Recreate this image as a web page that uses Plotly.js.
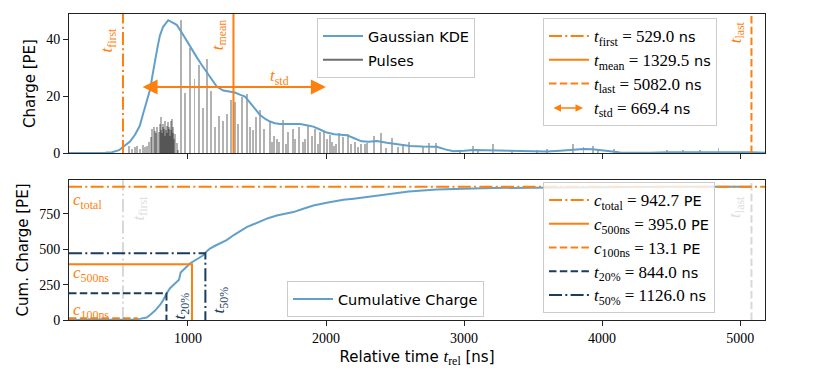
<!DOCTYPE html>
<html><head><meta charset="utf-8">
<script src="https://cdn.plot.ly/plotly-3.0.1.min.js"></script>
<style>html,body{margin:0;padding:0;background:#fff}</style>
</head><body>
<div id="chart" style="width:830px;height:380px"></div>
<script>
// ---- data ----
const pulseTimes = [575,592,616,633,652,671,688,705,720,730,742,751,761,768,778,787,797,802,807,812,816,821,826,831,836,841,845,850,855,860,865,869,874,879,884,889,894,899,906,918,930,
  947,978,1014,1047,1082,1106,1135,1170,1196,1222,1256,1280,1312,1341,1365,1394,1425,1449,1470,1493,1522,1553,1594,1610,1626,1643,1660,1691,1710,1727,1758,1775,1807,1835,1845,1867,1901,1920,1940,1957,1988,2010,
  2029,2045,2060,2075,2094,2126,2157,2180,2210,2230,2251,2280,2300,2350,2399,2435,2481,2524,2556,2604,2700,2749,2797,2971,
  3063,3100,3208,3345,3527,3599,3787,3865,3932,3973,4087,4469,4589,4710,4843,5082];
const pulseCharges = [2.6,1.4,2.0,2.6,1.4,2.7,2.0,2.6,3.9,5.7,8.6,9.3,7.9,7.0,9.1,7.3,10.3,8,12.6,7,10.3,9,8.6,6,11.4,8,9.6,7,10.8,9,8.6,6,11.4,8,12.0,7,9.0,5,6.6,3.6,1.2,
  46.8,21.2,37,26,31,16,33,22,9,13,11.4,13.8,18.7,17.9,10.2,19.9,20.8,9.1,8,12.6,15,8.5,10.8,4,6.1,5,4,11.7,3,7.3,8.5,5,9.3,4,5,9.5,6,8.5,3,7.3,7.8,5,
  6.4,4,2.5,3,7.2,5.8,6.6,3,4,2,3,3,3.5,6,7.2,1.9,5.3,2.2,3,3.9,2.6,3.5,3.5,1,
  2.5,1.5,3.1,1.1,1.2,1.3,3.1,2.2,2.4,1.5,1.5,1.0,1.2,1.0,1.7,0.8];

const kdeTimes = [138,300,400,450,500,531,580,616,650,676,700,725,745,761,780,797,820,857,890,918,950,990,1030,1063,1100,1135,1170,1208,1256,1300,1340,1380,1413,1470,1522,1560,1594,1630,1667,1740,1812,1860,1908,1960,2005,2060,2101,2150,2200,2258,2310,2367,2440,2520,2609,2700,2802,2870,2923,3000,3067,3160,3261,3380,3500,3600,3696,3780,3865,3930,3986,4060,4130,4227,4350,4469,4600,4710,4800,4879,5000,5080,5180];
const kdeValues = [0,0,0.05,0.3,1.0,2.2,4.0,6.4,9.5,14,18,22.3,28,32.9,37.5,41.5,44.5,46.8,46,45.2,42.8,39.5,36.5,33.8,31,28.5,25.8,23.4,22,21.5,21.3,20.5,19.9,16.5,13.4,12,11.1,10.5,10.2,10.2,10.2,9.8,9.3,8.2,7.2,6.6,6.4,6.3,5.3,4.1,4.0,4.2,3.6,3.0,2.5,2.3,2.2,1.2,0.6,0.8,1.1,1.0,0.9,0.6,0.4,0.5,0.8,1.2,1.4,1.3,1.1,0.6,0.2,0.05,0.1,0.3,0.35,0.3,0.35,0.4,0.3,0.3,0.1];

const cumTimes = [138,540,600,650,700,725,760,797,820,845,870,906,935,947,978,990,1014,1045,1082,1111,1135,1159,1196,1232,1280,1329,1365,1425,1470,1522,1580,1643,1700,1763,1830,1908,2005,2060,2126,2200,2246,2350,2450,2600,2800,3000,3200,3500,3800,4000,4500,5082];
const cumValues = [0,0,3,8,18,35,65,106,140,188,225,258,285,335,360,376,400,420,445,458,485,505,525,540,565,599,620,657,675,699,720,739,750,763,785,810,829,840,850,858,864,880,893,908,922,929,933,936,939,941,942,942.7];

const tFirst = 529.0, tMean = 1329.5, tLast = 5082.0, tStd = 669.4;
const cTotal = 942.7, c500 = 395.0, c100 = 13.1, t20 = 844.0, t50 = 1126.0;
const xTickVals = [1000,2000,3000,4000,5000];
const xTickText = ['1000','2000','3000','4000','5000'];
const yTopTicks = [0,20,40];
const yBotTicks = [0,250,500,750];

// ---- style ----
const xRange = [138, 5180];
const yTopRange = [0, 49];
const yBotRange = [0, 990];
const ORANGE = '#ff7f0e', NAVY = '#1a3d5c', BLUE = '#62a0ca', LGRAY = '#d8d8d8';
const SERIF = 'Liberation Serif';
const DASHDOT = '13px,3.3px,2px,3.3px';
const DASHED = '7.5px,3.3px';
const m = s => `<span style="font-family:Liberation Serif;font-size:17px">${s}</span>`;
const lg = s => `<span style="font-size:14.5px">${s}</span>`;

const traces = [];
// top panel
traces.push({type:'bar', x:pulseTimes, y:pulseCharges, width:14, xaxis:'x', yaxis:'y',
  marker:{color:'rgba(0,0,0,0.3)', line:{width:0}}, showlegend:false, hoverinfo:'skip'});
traces.push({type:'scatter', mode:'lines', x:kdeTimes, y:kdeValues, xaxis:'x', yaxis:'y',
  line:{color:BLUE, width:2}, name:lg('Gaussian KDE'), legend:'legend'});
traces.push({type:'scatter', mode:'lines', x:[null], y:[null], xaxis:'x', yaxis:'y',
  line:{color:'#6e6e6e', width:2}, name:lg('Pulses'), legend:'legend'});
traces.push({type:'scatter', mode:'lines', x:[tFirst,tFirst], y:yTopRange, xaxis:'x', yaxis:'y',
  line:{color:ORANGE, width:2, dash:DASHDOT}, name:lg(m('<i>t</i><sub>first</sub> = 529.0')+' ns'), legend:'legend2'});
traces.push({type:'scatter', mode:'lines', x:[tMean,tMean], y:yTopRange, xaxis:'x', yaxis:'y',
  line:{color:ORANGE, width:2}, name:lg(m('<i>t</i><sub>mean</sub> = 1329.5')+' ns'), legend:'legend2'});
traces.push({type:'scatter', mode:'lines', x:[tLast,tLast], y:yTopRange, xaxis:'x', yaxis:'y',
  line:{color:ORANGE, width:2, dash:DASHED}, name:lg(m('<i>t</i><sub>last</sub> = 5082.0')+' ns'), legend:'legend2'});
traces.push({type:'scatter', mode:'lines', x:[null], y:[null], xaxis:'x', yaxis:'y',
  line:{color:'rgba(0,0,0,0)', width:2}, name:lg(m('<i>t</i><sub>std</sub> = 669.4')+' ns'), legend:'legend2'});

// bottom panel
traces.push({type:'scatter', mode:'lines', x:[tFirst,tFirst], y:yBotRange, xaxis:'x2', yaxis:'y2',
  line:{color:LGRAY, width:2, dash:DASHDOT}, showlegend:false, hoverinfo:'skip'});
traces.push({type:'scatter', mode:'lines', x:[tLast,tLast], y:yBotRange, xaxis:'x2', yaxis:'y2',
  line:{color:LGRAY, width:2, dash:DASHED}, showlegend:false, hoverinfo:'skip'});
traces.push({type:'scatter', mode:'lines', x:cumTimes, y:cumValues, xaxis:'x2', yaxis:'y2',
  line:{color:BLUE, width:2}, name:lg('Cumulative Charge'), legend:'legend3'});
traces.push({type:'scatter', mode:'lines', x:xRange, y:[cTotal,cTotal], xaxis:'x2', yaxis:'y2',
  line:{color:ORANGE, width:2, dash:DASHDOT}, name:lg(m('<i>c</i><sub>total</sub> = 942.7')+' PE'), legend:'legend4'});
traces.push({type:'scatter', mode:'lines', x:[xRange[0], tFirst+500, tFirst+500], y:[c500,c500,0], xaxis:'x2', yaxis:'y2',
  line:{color:ORANGE, width:2}, name:lg(m('<i>c</i><sub>500ns</sub> = 395.0')+' PE'), legend:'legend4'});
traces.push({type:'scatter', mode:'lines', x:[xRange[0], tFirst+100, tFirst+100], y:[c100,c100,0], xaxis:'x2', yaxis:'y2',
  line:{color:ORANGE, width:2, dash:DASHED}, name:lg(m('<i>c</i><sub>100ns</sub> = 13.1')+' PE'), legend:'legend4'});
traces.push({type:'scatter', mode:'lines', x:[xRange[0], t20, t20], y:[0.2*cTotal,0.2*cTotal,0], xaxis:'x2', yaxis:'y2',
  line:{color:NAVY, width:2, dash:DASHED}, name:lg(m('<i>t</i><sub>20%</sub> = 844.0')+' ns'), legend:'legend4'});
traces.push({type:'scatter', mode:'lines', x:[xRange[0], t50, t50], y:[0.5*cTotal,0.5*cTotal,0], xaxis:'x2', yaxis:'y2',
  line:{color:NAVY, width:2, dash:DASHDOT}, name:lg(m('<i>t</i><sub>50%</sub> = 1126.0')+' ns'), legend:'legend4'});

const legBase = {bgcolor:'rgba(255,255,255,0.8)', bordercolor:'#cccccc', borderwidth:1, itemwidth:40,
  font:{family:'DejaVu Sans', size:16, color:'#000'}, xanchor:'left', yanchor:'top', tracegroupgap:0};

const annFont = (c, s) => ({family:SERIF, size:s||17, color:c});
const annotations = [
  {xref:'x', yref:'y', x:tFirst, y:40, text:'<i>t</i><sub>first</sub>', textangle:-90, xanchor:'right', xshift:-2, showarrow:false, font:annFont(ORANGE)},
  {xref:'x', yref:'y', x:tMean, y:41.7, text:'<i>t</i><sub>mean</sub>', textangle:-90, xanchor:'right', xshift:-2, showarrow:false, font:annFont(ORANGE)},
  {xref:'x', yref:'y', x:tLast, y:42.7, text:'<i>t</i><sub>last</sub>', textangle:-90, xanchor:'right', xshift:-2, showarrow:false, font:annFont(ORANGE)},
  {xref:'x', yref:'y', x:tMean+tStd/2, y:26.9, text:'<i>t</i><sub>std</sub>', showarrow:false, font:annFont(ORANGE)},
  {xref:'x', yref:'y', axref:'x', ayref:'y', x:tMean+tStd, y:23.3, ax:tMean-tStd, ay:23.3, text:'', showarrow:true,
    arrowside:'end+start', arrowhead:2, startarrowhead:2, arrowsize:1.5, startarrowsize:1.5, arrowwidth:2, arrowcolor:ORANGE, standoff:0, startstandoff:0},
  {xref:'paper', yref:'paper', x:(583-69)/696, y:(320-108)/306, axref:'pixel', ayref:'pixel', ax:-31, ay:0, text:'', showarrow:true,
    arrowside:'end+start', arrowhead:2, startarrowhead:2, arrowsize:1, startarrowsize:1, arrowwidth:1.5, arrowcolor:ORANGE},
  // bottom
  {xref:'paper', yref:'y2', x:0, y:838, text:'<i>c</i><sub>total</sub>', xanchor:'left', xshift:2, showarrow:false, font:annFont(ORANGE)},
  {xref:'paper', yref:'y2', x:0, y:324, text:'<i>c</i><sub>500ns</sub>', xanchor:'left', xshift:2, showarrow:false, font:annFont(ORANGE)},
  {xref:'paper', yref:'y2', x:0, y:63, text:'<i>c</i><sub>100ns</sub>', xanchor:'left', xshift:2, showarrow:false, font:annFont(ORANGE)},
  {xref:'x2', yref:'y2', x:t20, y:99, text:'<i>t</i><sub>20%</sub>', textangle:-90, xanchor:'left', xshift:2, showarrow:false, font:annFont(NAVY)},
  {xref:'x2', yref:'y2', x:t50, y:141, text:'<i>t</i><sub>50%</sub>', textangle:-90, xanchor:'left', xshift:2, showarrow:false, font:annFont(NAVY)},
  {xref:'x2', yref:'y2', x:tFirst, y:796, text:'<i>t</i><sub>first</sub>', textangle:-90, xanchor:'left', xshift:4, showarrow:false, font:annFont('#dddddd')},
  {xref:'x2', yref:'y2', x:tLast, y:803, text:'<i>t</i><sub>last</sub>', textangle:-90, xanchor:'right', xshift:-2, showarrow:false, font:annFont('#dddddd')}
];

const axCommon = {showline:true, mirror:true, linecolor:'#222', linewidth:1, ticks:'outside', ticklen:5, tickwidth:1,
  tickcolor:'#222', showgrid:false, zeroline:false, tickfont:{family:SERIF, size:14, color:'#000'}};

const layout = {
  width:830, height:380, paper_bgcolor:'#fff', plot_bgcolor:'#fff',
  margin:{l:69, r:65, t:14, b:60}, barmode:'overlay', bargap:0,
  font:{family:'DejaVu Sans', color:'#000'},
  xaxis: Object.assign({}, axCommon, {domain:[0,1], anchor:'y', range:xRange, tickvals:xTickVals, ticktext:xTickText, showticklabels:false}),
  yaxis: Object.assign({}, axCommon, {domain:[(320-153)/306,1], anchor:'x', range:yTopRange, tickvals:yTopTicks,
    title:{text:'Charge [PE]', font:{family:'DejaVu Sans', size:15}, standoff:6}}),
  xaxis2: Object.assign({}, axCommon, {domain:[0,1], anchor:'y2', range:xRange, tickvals:xTickVals, ticktext:xTickText,
    title:{text:'Relative time '+m('<i>t</i><sub>rel</sub>')+' [ns]', font:{family:'DejaVu Sans', size:15}, standoff:6}}),
  yaxis2: Object.assign({}, axCommon, {domain:[0,(320-180)/306], anchor:'x2', range:yBotRange, tickvals:yBotTicks,
    title:{text:'Cum. Charge [PE]', font:{family:'DejaVu Sans', size:15}, standoff:6}}),
  legend: Object.assign({}, legBase, {x:(317-69)/696, y:(320-18)/306}),
  legend2: Object.assign({}, legBase, {x:(543-69)/696, y:(320-18)/306}),
  legend3: Object.assign({}, legBase, {x:(287-69)/696, y:(320-281)/306}),
  legend4: Object.assign({}, legBase, {x:(543-69)/696, y:(320-182)/306}),
  annotations: annotations,
  showlegend:true
};

Plotly.newPlot('chart', traces, layout, {staticPlot:true, displayModeBar:false});
</script>
</body></html>
